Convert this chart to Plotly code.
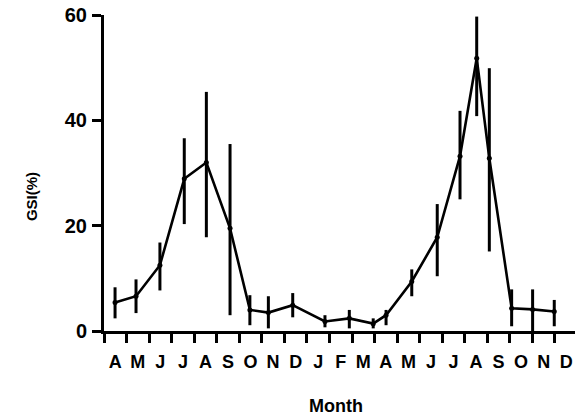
import plotly.graph_objects as go

# sampling positions in month units (0 = start of first April)
x_pos = [0.49, 1.42, 2.48, 3.56, 4.54, 5.59, 6.47, 7.29, 8.37, 9.80, 10.88,
         11.94, 12.51, 13.65, 14.78, 15.79, 16.53, 17.09, 18.08, 19.01, 19.97]
gsi = [5.4, 6.6, 12.5, 28.9, 32.0, 19.5, 4.0, 3.5, 4.9, 1.8, 2.4,
       1.4, 3.0, 9.4, 17.8, 33.2, 51.8, 32.8, 4.3, 4.1, 3.7]
err_hi = [8.3, 9.8, 16.8, 36.6, 45.4, 35.5, 6.8, 6.6, 7.2, 3.0, 4.0,
          2.4, 4.0, 11.7, 24.1, 41.8, 59.7, 49.9, 7.9, 7.9, 5.9]
err_lo = [2.4, 3.4, 7.7, 20.3, 17.8, 3.0, 1.1, 0.5, 2.6, 0.7, 0.5,
          0.5, 1.1, 6.6, 10.4, 25.0, 40.8, 15.1, 0.9, 0.0, 0.9]
month_labels = ["A", "M", "J", "J", "A", "S", "O", "N", "D", "J", "F",
                "M", "A", "M", "J", "J", "A", "S", "O", "N", "D"]
y_ticks = [0, 20, 40, 60]

plus = [h - v for h, v in zip(err_hi, gsi)]
minus = [v - l for v, l in zip(gsi, err_lo)]

fig = go.Figure()
fig.add_trace(go.Scatter(
    x=x_pos, y=gsi, mode="lines+markers",
    line=dict(color="black", width=2.6),
    marker=dict(color="black", size=5),
    error_y=dict(type="data", symmetric=False, array=plus, arrayminus=minus,
                 color="black", thickness=3, width=0),
    cliponaxis=False, showlegend=False,
))

font_family = "Liberation Sans, Arial, sans-serif"
fig.update_layout(
    width=575, height=418,
    margin=dict(l=104, r=0, t=15, b=87),
    paper_bgcolor="white", plot_bgcolor="white",
    font=dict(family=font_family, color="black"),
    xaxis=dict(
        range=[0, 20.89], showgrid=False, zeroline=False, automargin=False,
        showline=True, linecolor="black", linewidth=3,
        tickvals=[i + 0.5 for i in range(len(month_labels))],
        ticktext=month_labels,
        ticks="outside", ticklen=12, tickcolor="rgba(0,0,0,0)",
        tickfont=dict(size=18, family=font_family, weight="bold"),
        minor=dict(tickvals=list(range(len(month_labels))), ticks="outside",
                   ticklen=9, tickwidth=3, tickcolor="black"),
    ),
    yaxis=dict(
        range=[0, 60], showgrid=False, zeroline=False, automargin=False,
        showline=True, linecolor="black", linewidth=3,
        tickvals=y_ticks, ticks="outside", ticklen=9, tickwidth=3,
        tickcolor="black", ticklabelstandoff=1,
        tickfont=dict(size=20, family=font_family, weight="bold"),
    ),
    shapes=[
        dict(type="line", xref="x", yref="paper", x0=0, x1=0, y0=0, y1=-0.028,
             line=dict(color="black", width=3)),
    ],
    annotations=[
        dict(text="GSI(%)", xref="paper", yref="paper", x=-0.155, y=0.427,
             textangle=-90, showarrow=False, xanchor="center", yanchor="middle",
             font=dict(size=15, weight="bold")),
        dict(text="Month", xref="paper", yref="paper", x=0.4926, y=-0.237,
             showarrow=False, xanchor="center", yanchor="middle",
             font=dict(size=18, weight="bold")),
    ],
)

fig.write_html("out.html", config={"displayModeBar": False},
               post_script=["document.body.style.margin='0';"
                            "document.body.style.overflow='hidden';"])
